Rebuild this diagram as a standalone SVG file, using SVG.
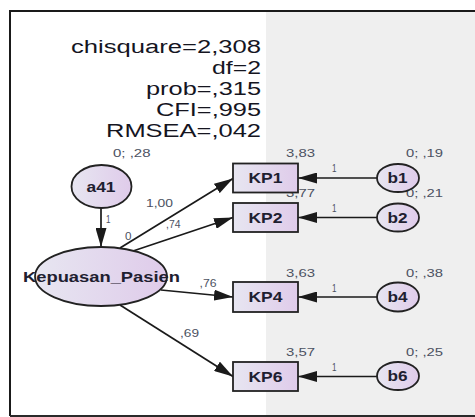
<svg xmlns="http://www.w3.org/2000/svg" width="475" height="417" viewBox="0 0 475 417">
  <defs>
    <linearGradient id="fillGrad" x1="0" y1="0" x2="1" y2="0">
      <stop offset="0" stop-color="#e7e6f1"/>
      <stop offset="1" stop-color="#dfcbea"/>
    </linearGradient>
    <marker id="arrow" viewBox="0 0 19 11" markerUnits="userSpaceOnUse" markerWidth="19" markerHeight="11" refX="19" refY="5.5" orient="auto">
      <path d="M0,0 L19,5.5 L0,11 Z" fill="#1a1a1a"/>
    </marker>
    <style>
      .stat { font-family: "Liberation Sans", Arial, sans-serif; font-size: 18px; fill: #15151f; }
      .name { font-family: "Liberation Sans", Arial, sans-serif; font-size: 14px; font-weight: bold; fill: #1e2030; }
      .par  { font-family: "Liberation Sans", Arial, sans-serif; font-size: 10.5px; fill: #4c5262; }
      .node { fill: url(#fillGrad); stroke: #222222; stroke-width: 1.8; }
      .edge { stroke: #1a1a1a; stroke-width: 1.7; fill: none; marker-end: url(#arrow); }
    </style>
  </defs>

  <!-- canvas -->
  <rect x="0" y="0" width="475" height="417" fill="#ffffff"/>
  <rect x="266" y="11" width="209" height="405" fill="#efefef"/>
  <path d="M10,416 L10,11 L475,11" fill="none" stroke="#1a1a1a" stroke-width="2"/>
  <path d="M10,416 L475,416" fill="none" stroke="#2a2a2a" stroke-width="2"/>

  <!-- fit statistics -->
  <g id="fit-stats">
    <text class="stat" x="71" y="52.5" textLength="190" lengthAdjust="spacingAndGlyphs">chisquare=2,308</text>
    <text class="stat" x="212" y="73.5" textLength="49" lengthAdjust="spacingAndGlyphs">df=2</text>
    <text class="stat" x="146" y="94.5" textLength="115" lengthAdjust="spacingAndGlyphs">prob=,315</text>
    <text class="stat" x="156" y="115.5" textLength="105" lengthAdjust="spacingAndGlyphs">CFI=,995</text>
    <text class="stat" x="106" y="136.5" textLength="155" lengthAdjust="spacingAndGlyphs">RMSEA=,042</text>
  </g>

  <!-- paths and weights -->
  <g id="connectors">
    <line class="edge" x1="101" y1="208" x2="101" y2="247"/>
    <line class="edge" x1="120" y1="248" x2="233" y2="178.5"/>
    <line class="edge" x1="133" y1="251" x2="233" y2="217.5"/>
    <line class="edge" x1="161" y1="290" x2="233" y2="297"/>
    <line class="edge" x1="120" y1="305" x2="233" y2="376.5"/>
    <line class="edge" x1="377" y1="178" x2="298" y2="178"/>
    <line class="edge" x1="377" y1="217.5" x2="298" y2="217.5"/>
    <line class="edge" x1="377" y1="297" x2="298" y2="297"/>
    <line class="edge" x1="377" y1="376.5" x2="298" y2="376.5"/>
    <text class="par" x="106" y="223" textLength="4.5" lengthAdjust="spacingAndGlyphs">1</text>
    <text class="par" x="146" y="206.5" textLength="27" lengthAdjust="spacingAndGlyphs">1,00</text>
    <text class="par" x="166" y="227.5" textLength="14.5" lengthAdjust="spacingAndGlyphs">,74</text>
    <text class="par" x="199.5" y="287" textLength="17" lengthAdjust="spacingAndGlyphs">,76</text>
    <text class="par" x="180" y="337" textLength="19" lengthAdjust="spacingAndGlyphs">,69</text>
    <text class="par" x="332" y="172" textLength="4.5" lengthAdjust="spacingAndGlyphs">1</text>
    <text class="par" x="332" y="212" textLength="4.5" lengthAdjust="spacingAndGlyphs">1</text>
    <text class="par" x="332" y="291.5" textLength="4.5" lengthAdjust="spacingAndGlyphs">1</text>
    <text class="par" x="332" y="370.5" textLength="4.5" lengthAdjust="spacingAndGlyphs">1</text>
  </g>

  <!-- intercepts and variances (drawn beneath the shapes) -->
  <g id="estimates">
    <text class="par" x="113" y="157" textLength="37.5" lengthAdjust="spacingAndGlyphs">0; ,28</text>
    <text class="par" x="125" y="240" textLength="6.5" lengthAdjust="spacingAndGlyphs">0</text>
    <text class="par" x="286" y="157" textLength="29" lengthAdjust="spacingAndGlyphs">3,83</text>
    <text class="par" x="406" y="157" textLength="37" lengthAdjust="spacingAndGlyphs">0; ,19</text>
    <text class="par" x="286" y="197" textLength="29" lengthAdjust="spacingAndGlyphs">3,77</text>
    <text class="par" x="406" y="197" textLength="37" lengthAdjust="spacingAndGlyphs">0; ,21</text>
    <text class="par" x="286" y="277" textLength="29" lengthAdjust="spacingAndGlyphs">3,63</text>
    <text class="par" x="406" y="277" textLength="37" lengthAdjust="spacingAndGlyphs">0; ,38</text>
    <text class="par" x="286" y="356" textLength="29" lengthAdjust="spacingAndGlyphs">3,57</text>
    <text class="par" x="406" y="356" textLength="37" lengthAdjust="spacingAndGlyphs">0; ,25</text>
  </g>

  <!-- latent variables -->
  <g id="a41">
    <ellipse class="node" cx="101.5" cy="186.5" rx="30" ry="21.5"/>
    <text class="name" x="86.5" y="191.5" textLength="29" lengthAdjust="spacingAndGlyphs">a41</text>
  </g>
  <g id="Kepuasan_Pasien">
    <ellipse class="node" cx="101" cy="276.5" rx="66" ry="29.5"/>
    <text class="name" x="23" y="281.5" textLength="157" lengthAdjust="spacingAndGlyphs">Kepuasan_Pasien</text>
  </g>

  <!-- observed indicators -->
  <g id="KP1">
    <rect class="node" x="233" y="163.5" width="65" height="29"/>
    <text class="name" x="248.5" y="183" textLength="34" lengthAdjust="spacingAndGlyphs">KP1</text>
  </g>
  <g id="KP2">
    <rect class="node" x="233" y="203" width="65" height="29"/>
    <text class="name" x="248.5" y="222.5" textLength="34" lengthAdjust="spacingAndGlyphs">KP2</text>
  </g>
  <g id="KP4">
    <rect class="node" x="233" y="282" width="65" height="30"/>
    <text class="name" x="248.5" y="302" textLength="34" lengthAdjust="spacingAndGlyphs">KP4</text>
  </g>
  <g id="KP6">
    <rect class="node" x="233" y="362" width="65" height="29"/>
    <text class="name" x="248.5" y="381.5" textLength="34" lengthAdjust="spacingAndGlyphs">KP6</text>
  </g>

  <!-- error terms -->
  <g id="b1">
    <ellipse class="node" cx="398" cy="178" rx="21" ry="14"/>
    <text class="name" x="387.5" y="183" textLength="20" lengthAdjust="spacingAndGlyphs">b1</text>
  </g>
  <g id="b2">
    <ellipse class="node" cx="398" cy="217.5" rx="21" ry="14"/>
    <text class="name" x="387.5" y="222.5" textLength="20" lengthAdjust="spacingAndGlyphs">b2</text>
  </g>
  <g id="b4">
    <ellipse class="node" cx="398" cy="297" rx="21" ry="14.5"/>
    <text class="name" x="387.5" y="302" textLength="20" lengthAdjust="spacingAndGlyphs">b4</text>
  </g>
  <g id="b6">
    <ellipse class="node" cx="398" cy="376" rx="21" ry="14"/>
    <text class="name" x="387.5" y="381" textLength="20" lengthAdjust="spacingAndGlyphs">b6</text>
  </g>
</svg>
